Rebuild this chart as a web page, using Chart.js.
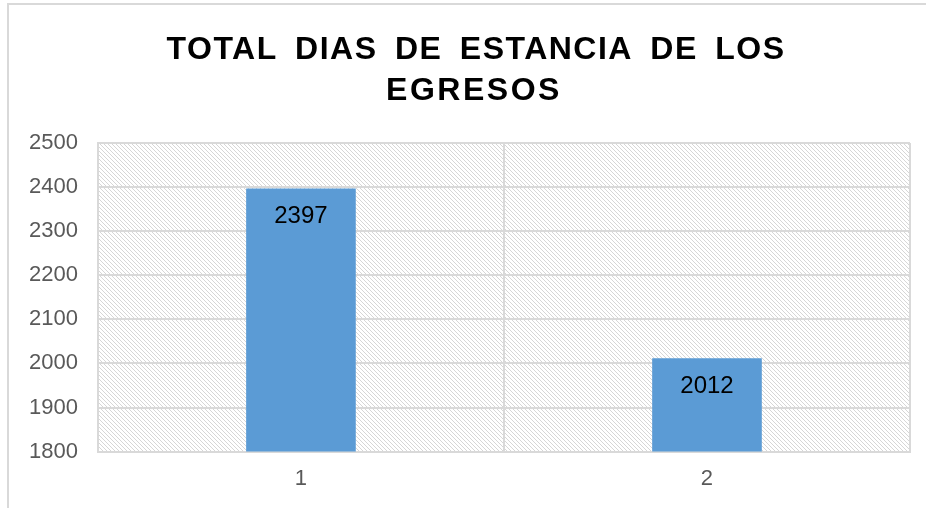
<!DOCTYPE html>
<html>
<head>
<meta charset="utf-8">
<script src="https://cdn.jsdelivr.net/npm/chart.js@4/dist/chart.umd.min.js"></script>
<style>
    html, body {
        margin: 0;
        padding: 0;
        background: #ffffff;
        overflow: hidden;
    }
    #frame {
        position: absolute;
        left: 7px;
        top: 3px;
        border-left: 2px solid #d9d9d9;
        border-top: 2px solid #d9d9d9;
    }
    #box {
        position: relative;
        width: 930px;
        height: 503px;
    }
</style>
</head>
<body>
<div id="frame">
    <div id="box">
        <canvas id="staysChart"></canvas>
    </div>
</div>
<script>
// ======================================
// Data
// ======================================

const titleLines = ["TOTAL DIAS DE ESTANCIA DE LOS", "EGRESOS"];

const categories = ["1", "2"];

const stayDays = [2397, 2012];

const yTickValues = [1800, 1900, 2000, 2100, 2200, 2300, 2400, 2500];

// ======================================
// Styles
// ======================================

const BAR_COLOR = "#5b9bd5";
const GRID_COLOR = "#d9d9d9";
const TICK_COLOR = "#595959";
const FONT_FAMILY = "'Liberation Sans', Arial, sans-serif";

// hatched plot background (downward diagonal)
function makeHatch() {
    const tile = document.createElement("canvas");
    tile.width = 8;
    tile.height = 8;
    const t = tile.getContext("2d");
    t.fillStyle = "#ffffff";
    t.fillRect(0, 0, 8, 8);
    t.strokeStyle = "#d6d6d6";
    t.lineWidth = 1;
    for (let k = -8; k <= 8; k += 4) {
        t.beginPath();
        t.moveTo(k, 0);
        t.lineTo(k + 8, 8);
        t.stroke();
    }
    return tile;
}

const hatchBackground = {
    id: "hatchBackground",
    beforeDraw(chart) {
        const { ctx, chartArea } = chart;
        ctx.save();
        ctx.fillStyle = ctx.createPattern(makeHatch(), "repeat");
        ctx.fillRect(chartArea.left, chartArea.top,
            chartArea.right - chartArea.left, chartArea.bottom - chartArea.top);
        ctx.restore();
    }
};

// value labels just inside the top of each bar
const barValueLabels = {
    id: "barValueLabels",
    afterDatasetsDraw(chart) {
        const ctx = chart.ctx;
        const meta = chart.getDatasetMeta(0);
        ctx.save();
        ctx.font = "24px " + FONT_FAMILY;
        ctx.fillStyle = "#000000";
        ctx.textAlign = "center";
        ctx.textBaseline = "middle";
        meta.data.forEach((bar, i) => {
            ctx.fillText(String(stayDays[i]), bar.x, bar.y + 28);
        });
        ctx.restore();
    }
};

// bold title, slightly spaced like the original
const spacedTitle = {
    id: "spacedTitle",
    afterDraw(chart) {
        const ctx = chart.ctx;
        ctx.save();
        ctx.font = "bold 32px " + FONT_FAMILY;
        ctx.fillStyle = "#000000";
        ctx.textAlign = "center";
        ctx.textBaseline = "alphabetic";
        ctx.letterSpacing = "1.5px";
        ctx.wordSpacing = "7px";
        ctx.fillText(titleLines[0], 467, 54);
        ctx.letterSpacing = "2.5px";
        ctx.wordSpacing = "0px";
        ctx.fillText(titleLines[1], 465, 95);
        ctx.restore();
    }
};

// ======================================
// Chart
// ======================================

new Chart(document.getElementById("staysChart"), {

    type: "bar",

    data: {
        labels: categories,
        datasets: [{
            data: stayDays,
            backgroundColor: BAR_COLOR,
            borderWidth: 0,
            barPercentage: 0.27,
            categoryPercentage: 1.0
        }]
    },

    options: {
        responsive: true,
        maintainAspectRatio: false,
        animation: false,
        layout: {
            padding: { left: 0, right: 29, top: 138, bottom: 2 }
        },
        plugins: {
            legend: { display: false },
            title: { display: false },
            tooltip: { enabled: false }
        },
        scales: {
            x: {
                grid: {
                    color: GRID_COLOR,
                    lineWidth: 2,
                    drawTicks: false,
                    offset: true
                },
                border: { color: GRID_COLOR, width: 2 },
                ticks: {
                    color: TICK_COLOR,
                    padding: 14,
                    font: { size: 22, family: FONT_FAMILY }
                }
            },
            y: {
                min: yTickValues[0],
                max: yTickValues[yTickValues.length - 1],
                afterBuildTicks(scale) {
                    scale.ticks = yTickValues.map(v => ({ value: v }));
                },
                grid: {
                    color: GRID_COLOR,
                    lineWidth: 2,
                    drawTicks: false
                },
                border: { color: GRID_COLOR, width: 2 },
                ticks: {
                    color: TICK_COLOR,
                    padding: 20,
                    callback: value => String(value),
                    font: { size: 22, family: FONT_FAMILY }
                }
            }
        }
    },

    plugins: [hatchBackground, barValueLabels, spacedTitle]

});
</script>
</body>
</html>
